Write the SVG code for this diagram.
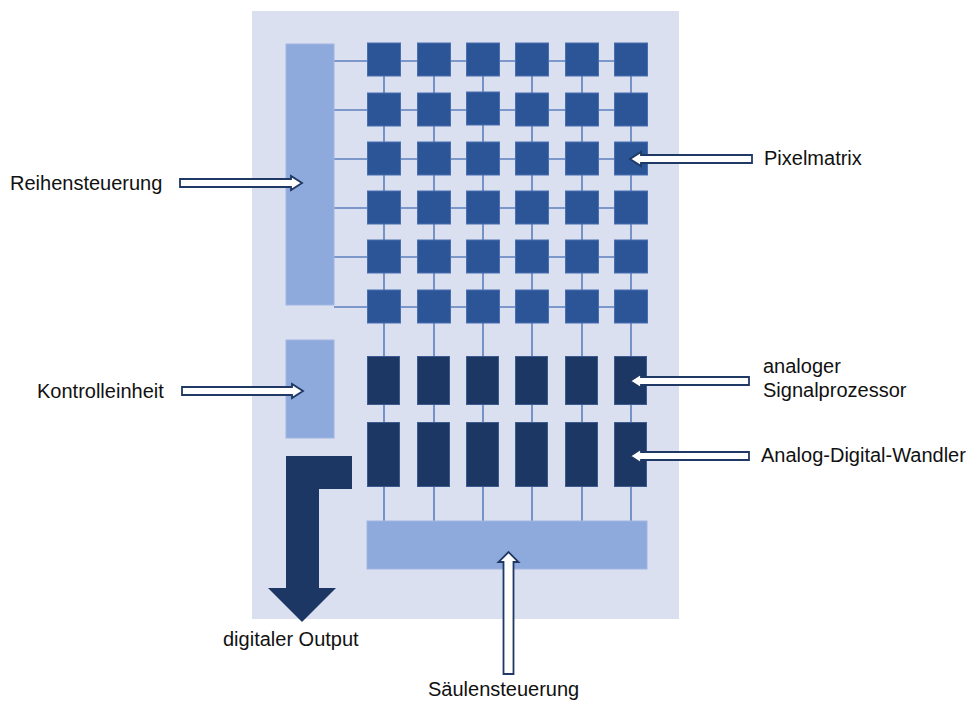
<svg xmlns="http://www.w3.org/2000/svg" width="974" height="702" viewBox="0 0 974 702">
<style>
.bg{fill:#dbe0f1}
.bar{fill:#8eaadc;stroke:#9fb6e2;stroke-width:1}
.px{fill:#2b5597;stroke:#4a6fb0;stroke-width:1}
.dk{fill:#1d3764;stroke:#3b5a8e;stroke-width:1}
.ln{stroke:#5c7fbd;stroke-width:1.6;fill:none}
.ha{fill:#ffffff;stroke:#1f3864;stroke-width:1.8;stroke-linejoin:miter}
.out{fill:#1d3764}
text{font-family:"Liberation Sans",Arial,Helvetica,sans-serif;font-size:20px;fill:#111}
</style>
<rect class="bg" x="252" y="11" width="427" height="608"/>
<g id="connectors">
<line class="ln" x1="334" y1="61" x2="630" y2="61"/>
<line class="ln" x1="334" y1="110" x2="630" y2="110"/>
<line class="ln" x1="334" y1="159" x2="630" y2="159"/>
<line class="ln" x1="334" y1="208" x2="630" y2="208"/>
<line class="ln" x1="334" y1="257" x2="630" y2="257"/>
<line class="ln" x1="334" y1="307" x2="630" y2="307"/>
<line class="ln" x1="384" y1="60" x2="384" y2="521"/>
<line class="ln" x1="434" y1="60" x2="434" y2="521"/>
<line class="ln" x1="483" y1="60" x2="483" y2="521"/>
<line class="ln" x1="532" y1="60" x2="532" y2="521"/>
<line class="ln" x1="582" y1="60" x2="582" y2="521"/>
<line class="ln" x1="631" y1="60" x2="631" y2="521"/>
</g>
<g id="reihensteuerung"><rect class="bar" x="286" y="44" width="48" height="261"/></g>
<g id="kontrolleinheit"><rect class="bar" x="286" y="340" width="48" height="98"/></g>
<g id="saeulensteuerung"><rect class="bar" x="367" y="521" width="280" height="48"/></g>
<g id="pixelmatrix">
<rect class="px" x="367.5" y="43" width="33" height="33"/><rect class="px" x="417.5" y="43" width="33" height="33"/><rect class="px" x="466.5" y="43" width="33" height="33"/><rect class="px" x="515.5" y="43" width="33" height="33"/><rect class="px" x="565.5" y="43" width="33" height="33"/><rect class="px" x="614.5" y="43" width="33" height="33"/>
<rect class="px" x="367.5" y="93" width="33" height="33"/><rect class="px" x="417.5" y="93" width="33" height="33"/><rect class="px" x="466.5" y="92" width="33" height="33"/><rect class="px" x="515.5" y="93" width="33" height="33"/><rect class="px" x="565.5" y="93" width="33" height="33"/><rect class="px" x="614.5" y="93" width="33" height="33"/>
<rect class="px" x="367.5" y="142" width="33" height="33"/><rect class="px" x="417.5" y="142" width="33" height="33"/><rect class="px" x="466.5" y="142" width="33" height="33"/><rect class="px" x="515.5" y="142" width="33" height="33"/><rect class="px" x="565.5" y="142" width="33" height="33"/><rect class="px" x="614.5" y="142" width="33" height="33"/>
<rect class="px" x="367.5" y="191" width="33" height="33"/><rect class="px" x="417.5" y="191" width="33" height="33"/><rect class="px" x="466.5" y="191" width="33" height="33"/><rect class="px" x="515.5" y="191" width="33" height="33"/><rect class="px" x="565.5" y="191" width="33" height="33"/><rect class="px" x="614.5" y="191" width="33" height="33"/>
<rect class="px" x="367.5" y="240" width="33" height="33"/><rect class="px" x="417.5" y="240" width="33" height="33"/><rect class="px" x="466.5" y="240" width="33" height="33"/><rect class="px" x="515.5" y="240" width="33" height="33"/><rect class="px" x="565.5" y="240" width="33" height="33"/><rect class="px" x="614.5" y="240" width="33" height="33"/>
<rect class="px" x="367.5" y="290" width="33" height="33"/><rect class="px" x="417.5" y="290" width="33" height="33"/><rect class="px" x="466.5" y="290" width="33" height="33"/><rect class="px" x="515.5" y="290" width="33" height="33"/><rect class="px" x="565.5" y="290" width="33" height="33"/><rect class="px" x="614.5" y="290" width="33" height="33"/>
</g>
<g id="signalprozessor">
<rect class="dk" x="367.5" y="356.5" width="32" height="48"/><rect class="dk" x="417.5" y="356.5" width="32" height="48"/><rect class="dk" x="466.5" y="356.5" width="32" height="48"/><rect class="dk" x="515.5" y="356.5" width="32" height="48"/><rect class="dk" x="565.5" y="356.5" width="32" height="48"/><rect class="dk" x="614.5" y="356.5" width="32" height="48"/>
</g>
<g id="adwandler">
<rect class="dk" x="367.5" y="422.5" width="32" height="64"/><rect class="dk" x="417.5" y="422.5" width="32" height="64"/><rect class="dk" x="466.5" y="422.5" width="32" height="64"/><rect class="dk" x="515.5" y="422.5" width="32" height="64"/><rect class="dk" x="565.5" y="422.5" width="32" height="64"/><rect class="dk" x="614.5" y="422.5" width="32" height="64"/>
</g>
<g id="digitaler-output">
<polygon class="out" points="286,456 352,456 352,489 319,489 319,588 336,588 302,622 268,588 286,588"/>
<text x="223" y="646">digitaler Output</text>
</g>
<g id="label-arrows">
<polygon class="ha" points="180,179 291,179 291,176 302,183 291,190 291,187 180,187"/>
<polygon class="ha" points="182,387 292,387 292,384 303,391 292,398 292,395 182,395"/>
<polygon class="ha" points="752,155 641,155 641,152 630,159 641,166 641,163 752,163"/>
<polygon class="ha" points="749,377 641,377 641,374 630,381 641,388 641,385 749,385"/>
<polygon class="ha" points="749,452 641,452 641,449 630,456 641,463 641,460 749,460"/>
<polygon class="ha" points="503.5,674 503.5,562 498.5,562 508.5,552 518.5,562 513.5,562 513.5,674"/>
</g>
<g id="labels">
<text x="10" y="190">Reihensteuerung</text>
<text x="37" y="398">Kontrolleinheit</text>
<text x="764" y="165">Pixelmatrix</text>
<text x="763" y="373">analoger</text>
<text x="763" y="397">Signalprozessor</text>
<text x="761" y="462">Analog-Digital-Wandler</text>
<text x="428" y="696">Säulensteuerung</text>
</g>
</svg>
